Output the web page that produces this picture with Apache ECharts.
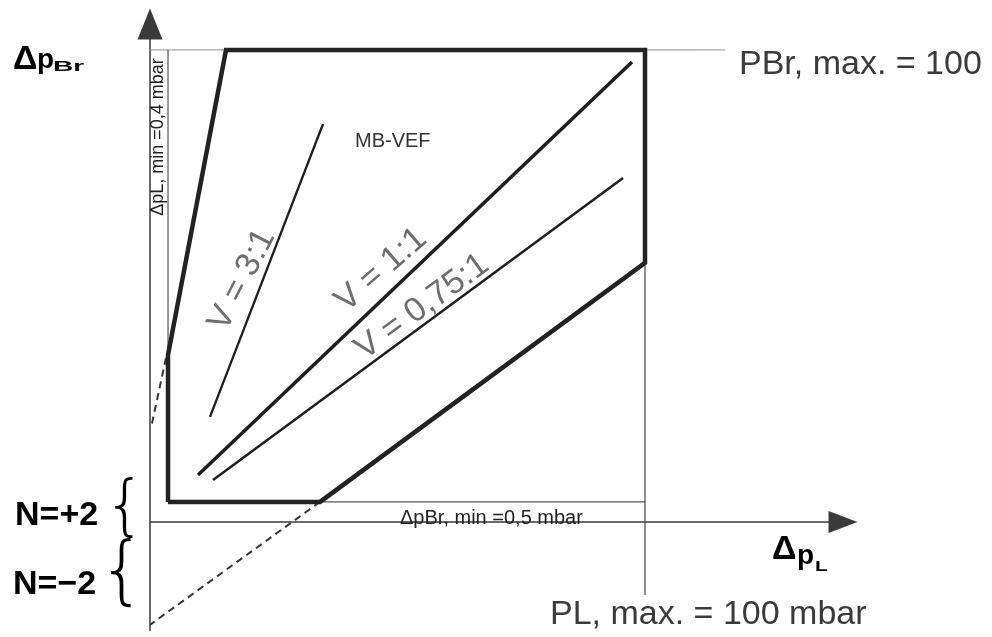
<!DOCTYPE html>
<html><head><meta charset="utf-8">
<script src="https://cdn.jsdelivr.net/npm/echarts@6/dist/echarts.min.js"></script>
<style>html,body{margin:0;padding:0;background:#fff}#c{width:992px;height:637px}</style>
</head><body><div id="c"></div>
<script>
// ---- data (x = Δp_L in mbar, y = Δp_Br) ----
const axisRangePL = [0, 140];
const axisRangePBr = [-23, 105.5];
const boundaryPts = [[3.64,4.24],[3.64,35.4],[15.35,100],[100,100],[100,54.9],[34.34,4.24],[3.64,4.24]];
const boundaryLeftExt = [[3.23,34.75],[0.2,19.9]];
const boundaryLowerExt = [[34.34,4.24],[0,-21.8]];
const ratio31 = [[12.12,22.25],[34.95,84.32]];
const ratio11 = [[9.70,9.96],[97.37,97.46]];
const ratio075 = [[12.73,8.9],[95.56,72.88]];
const pbrMaxLine = [[-3.4,100],[116.2,100]];
const plMaxLine = [[100,54.9],[100,-15.5]];
const plMinLine = [[3.64,100],[3.64,35.4]];
const pbrMinLine = [[3.64,4.24],[100,4.24]];

const FONT = "'Liberation Sans', Arial, sans-serif";

function seg(data, width, color, type, z, join) {
  return {type:'line', data:data, symbol:'none', clip:false, silent:true, animation:false, z:z||2,
    lineStyle:{width:width, color:color, type:type||'solid', join:join||'miter', cap:'butt'}};
}
function txt(text, x, y, font, fill, opt) {
  opt = opt || {};
  return {type:'text', x:x, y:y, rotation:opt.rot||0, scaleX:opt.sx||1, scaleY:opt.sy||1, z:100, silent:true,
    style:{text:text, font:font, fill:fill, align:opt.align||'left', verticalAlign:'middle'}};
}
const D2R = Math.PI/180;

const chart = echarts.init(document.getElementById('c'), null, {renderer:'canvas'});
chart.setOption({
  animation:false,
  backgroundColor:'#fff',
  grid:{left:150, right:149, top:24, bottom:6.5, outerBoundsMode:'none', containLabel:false},
  xAxis:{type:'value', min:axisRangePL[0], max:axisRangePL[1], splitLine:{show:false}, axisTick:{show:false}, axisLabel:{show:false},
    axisLine:{onZero:true, lineStyle:{color:'#3a3a3a', width:1.5}, symbol:['none','triangle'], symbolSize:[22,29]}},
  yAxis:{type:'value', min:axisRangePBr[0], max:axisRangePBr[1], splitLine:{show:false}, axisTick:{show:false}, axisLabel:{show:false},
    axisLine:{onZero:false, lineStyle:{color:'#3a3a3a', width:1.5}, symbol:['none','triangle'], symbolSize:[25,31]}},
  series:[
    seg(pbrMaxLine, 1, '#8a8a8a', 'solid', 1),
    seg(plMaxLine, 1.2, '#444', 'solid', 1),
    seg(plMinLine, 1.2, '#555', 'solid', 1),
    seg(pbrMinLine, 1.2, '#555', 'solid', 1),
    seg(boundaryLeftExt, 2, '#333', [7,5], 2),
    seg(boundaryLowerExt, 2, '#333', [7,5], 2),
    seg(ratio31, 2.3, '#1e1e1e', 'solid', 3, 'round'),
    seg(ratio11, 3.5, '#1e1e1e', 'solid', 3, 'round'),
    seg(ratio075, 2.5, '#1e1e1e', 'solid', 3, 'round'),
    seg(boundaryPts, 4.5, '#222', 'solid', 4)
  ],
  graphic:[
    // Δp_Br axis title
    txt('Δ', 13, 60, "bold 34px "+FONT, '#000'),
    txt('p', 37, 60, "bold 28px "+FONT, '#000'),
    txt('Br', 53, 67, "bold 14px "+FONT, '#000', {sx:2}),
    // Δp_L axis title
    txt('Δ', 772, 550, "bold 34px "+FONT, '#000'),
    txt('p', 797, 556, "bold 28px "+FONT, '#000'),
    txt('L', 815, 567, "bold 14px "+FONT, '#000', {sx:1.5}),
    // limits
    txt('PBr, max. = 100', 739, 65, "34px "+FONT, '#3a3a3a'),
    txt('PL, max. = 100 mbar', 550, 615, "34px "+FONT, '#3a3a3a'),
    txt('MB-VEF', 355, 141, "20px "+FONT, '#333'),
    txt('ΔpBr, min =0,5 mbar', 400, 518, "20px "+FONT, '#222'),
    txt('ΔpL, min =0,4 mbar', 158, 137, "18px "+FONT, '#222', {rot:90*D2R, align:'center'}),
    // ratio labels
    txt('V = 3:1', 242, 280, "34px "+FONT, '#6e6e6e', {rot:63*D2R, align:'center'}),
    txt('V = 1:1', 381, 270, "34px "+FONT, '#6e6e6e', {rot:41*D2R, align:'center'}),
    txt('V = 0,75:1', 422, 307, "34px "+FONT, '#6e6e6e', {rot:36*D2R, align:'center'}),
    // N labels and braces
    txt('N=+2', 15, 516, "bold 34px "+FONT, '#000'),
    txt('N=\u22122', 13, 585, "bold 34px "+FONT, '#000'),
    txt('{', 125, 510, "200 66px 'DejaVu Sans', sans-serif", '#000', {align:'center'}),
    txt('{', 122, 576, "200 75px 'DejaVu Sans', sans-serif", '#000', {align:'center'})
  ]
});
</script></body></html>
